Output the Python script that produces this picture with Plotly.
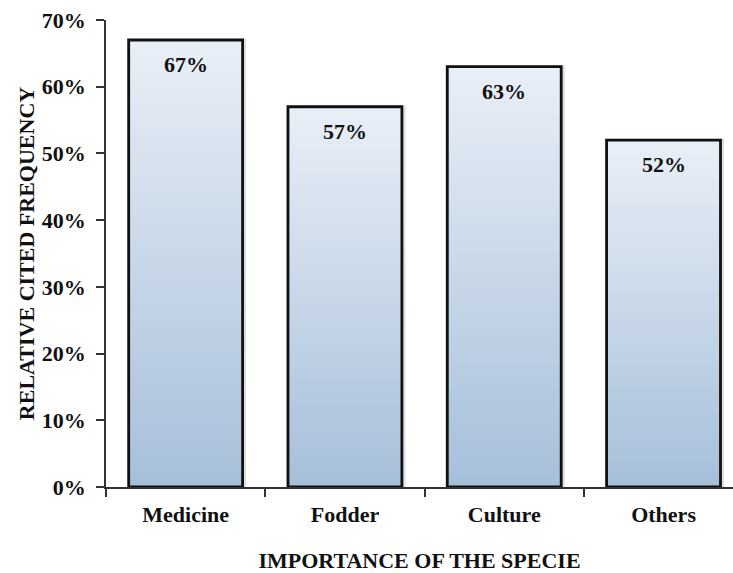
import plotly.graph_objects as go

# Data
categories = ["Medicine", "Fodder", "Culture", "Others"]
values = [67, 57, 63, 52]
y_ticks = [0, 10, 20, 30, 40, 50, 60, 70]
y_tick_labels = [f"{t}%" for t in y_ticks]

BAR_W = 0.715
FONT = "Liberation Serif, Times New Roman, serif"
FS = 22
half = BAR_W / 2
xs = list(range(len(categories)))

fig = go.Figure()

# Soft shadow behind each bar
for x, v in zip(xs, values):
    sx = 0.022
    fig.add_trace(go.Scatter(
        x=[x - half - sx / 2, x + half + sx, x + half + sx, x - half - sx / 2, x - half - sx / 2],
        y=[0, 0, v + 0.2, v + 0.2, 0],
        mode="lines", line=dict(width=0),
        fill="toself", fillcolor="rgba(0,0,0,0.13)",
        hoverinfo="skip", showlegend=False,
    ))

# Bars: gradient fill (light at the top, steel blue at the base) with black outline
for x, v in zip(xs, values):
    fig.add_trace(go.Scatter(
        x=[x - half, x + half, x + half, x - half, x - half],
        y=[0, 0, v, v, 0],
        mode="lines",
        line=dict(width=2.8, color="#111111"),
        fill="toself",
        fillgradient=dict(type="vertical",
                          colorscale=[[0, "#a6bfd9"], [1, "#e9eff7"]]),
        hoverinfo="skip",
        showlegend=False,
    ))

# Value labels inside the bars near the top
for x, v in zip(xs, values):
    fig.add_annotation(
        x=x, y=v, text=f"<b>{v}%</b>", showarrow=False,
        yanchor="top", yshift=-10,
        font=dict(family=FONT, size=FS, color="#111111"),
    )

fig.update_layout(
    width=733, height=573,
    margin=dict(l=106, r=0, t=20, b=86),
    paper_bgcolor="white", plot_bgcolor="white",
    font=dict(family=FONT, size=FS, color="#111111"),
)

fig.update_xaxes(
    range=[-0.5, 3.436],
    automargin=False,
    tickvals=xs,
    ticktext=[f"<b>{c}</b>" for c in categories],
    ticks="", ticklabelstandoff=7,
    minor=dict(tickvals=[-0.5, 0.5, 1.5, 2.5], ticks="outside",
               ticklen=8, tickwidth=1.5, tickcolor="#333333"),
    showline=True, linecolor="#333333", linewidth=1.5,
    showgrid=False, zeroline=False,
    title=dict(text="<b>IMPORTANCE OF THE SPECIE</b>", standoff=37,
               font=dict(family=FONT, size=FS)),
)

fig.update_yaxes(
    range=[0, 70],
    automargin=False,
    tickvals=y_ticks, ticktext=[f"<b>{t}</b>" for t in y_tick_labels],
    ticks="outside", ticklen=8, tickwidth=1.5, tickcolor="#333333",
    ticklabelstandoff=6,
    showline=True, linecolor="#333333", linewidth=1.5,
    showgrid=False, zeroline=False,
    title=dict(text="<b>RELATIVE CITED FREQUENCY</b>", standoff=1,
               font=dict(family=FONT, size=FS)),
)

fig.write_html("out.html")
